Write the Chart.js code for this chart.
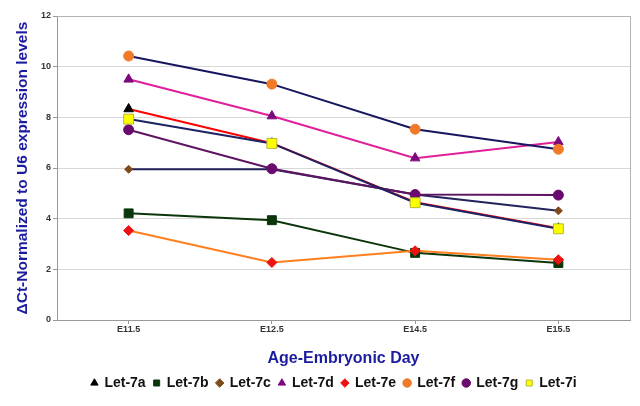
<!DOCTYPE html>
<html><head><meta charset="utf-8">
<script src="https://cdn.jsdelivr.net/npm/chart.js@4.4.1/dist/chart.umd.min.js"></script>
<style>html,body{margin:0;padding:0;background:#fff}#wrap{width:640px;height:406px}</style>
</head><body><div id="wrap"><canvas id="c" width="640" height="406"></canvas></div>
<script>
const categories = ['E11.5','E12.5','E14.5','E15.5'];
const let7a = [8.33, 6.98, 4.65, 3.62];
const let7b = [4.21, 3.94, 2.65, 2.25];
const let7c = [5.95, 5.95, 4.95, 4.31];
const let7d = [9.50, 8.05, 6.39, 7.03];
const let7e = [3.53, 2.27, 2.73, 2.38];
const let7f = [10.42, 9.31, 7.53, 6.74];
const let7g = [7.51, 5.97, 4.95, 4.93];
const let7i = [7.93, 6.97, 4.63, 3.60];
const seriesNames = ['Let-7a','Let-7b','Let-7c','Let-7d','Let-7e','Let-7f','Let-7g','Let-7i'];
const yTicks = [0,2,4,6,8,10,12];

const styles = [
  {line:'#ff0000', fill:'#000000', border:'#000000', shape:'triangle', r:5.5},
  {line:'#0b360b', fill:'#0b360b', border:'#0b360b', shape:'rect', r:6.3},
  {line:'#23235e', fill:'#7f4a1c', border:'#7f4a1c', shape:'rectRot', r:4},
  {line:'#e0209a', fill:'#7d0a7d', border:'#7d0a7d', shape:'triangle', r:5.5},
  {line:'#ff7f1e', fill:'#ee1111', border:'#ee1111', shape:'rectRot', r:5},
  {line:'#16165e', fill:'#f07a28', border:'#f07a28', shape:'circle', r:5},
  {line:'#5e1462', fill:'#6a0a6e', border:'#6a0a6e', shape:'circle', r:5},
  {line:'#1c2264', fill:'#ffff00', border:'#b8b830', shape:'rect', r:7}
];
const values = [let7a, let7b, let7c, let7d, let7e, let7f, let7g, let7i];

const datasets = values.map((v, i) => ({
  label: seriesNames[i],
  data: v,
  borderColor: styles[i].line,
  backgroundColor: styles[i].fill,
  borderWidth: 2,
  pointStyle: styles[i].shape,
  pointRadius: styles[i].r,
  pointHoverRadius: styles[i].r,
  pointBackgroundColor: styles[i].fill,
  pointBorderColor: styles[i].border,
  pointBorderWidth: 1,
  tension: 0,
  order: values.length - i
}));

const tweak = {
  id: 'tweak',
  afterLayout(chart) {
    const L = chart.legend;
    if (L) { L.left += 19; L.right += 19; }
  },
  beforeDatasetsDraw(chart) {
    const a = chart.chartArea, ctx = chart.ctx;
    ctx.save();
    ctx.strokeStyle = '#b4b4b4';
    ctx.lineWidth = 1;
    ctx.beginPath();
    ctx.moveTo(a.left, a.top + 0.5);
    ctx.lineTo(a.right + 0.5, a.top + 0.5);
    ctx.lineTo(a.right + 0.5, a.bottom);
    ctx.stroke();
    ctx.restore();
  }
};

new Chart(document.getElementById('c'), {
  type: 'line',
  data: { labels: categories, datasets },
  plugins: [tweak],
  options: {
    responsive: false,
    animation: false,
    layout: { padding: { top: 16, right: 10, left: 0, bottom: 6 } },
    plugins: {
      tooltip: { enabled: false },
      legend: {
        position: 'bottom',
        labels: {
          usePointStyle: true,
          boxWidth: 6,
          boxHeight: 6,
          padding: 8,
          color: '#111',
          font: { family: 'Liberation Sans, Arial, sans-serif', size: 14, weight: 'bold' },
          sort: (a, b) => a.datasetIndex - b.datasetIndex
        }
      }
    },
    scales: {
      x: {
        type: 'category',
        offset: true,
        afterFit: (s) => { s.height = 48; },
        grid: { drawOnChartArea: false, drawTicks: true, tickLength: 4, color: '#999' },
        border: { color: '#999' },
        ticks: { color: '#333', padding: 0, font: { family: 'Liberation Sans, Arial, sans-serif', size: 9, weight: 'bold' } },
        title: {
          display: true, text: 'Age-Embryonic Day', color: '#1c1ca0',
          padding: { top: 0, bottom: 0 },
          font: { family: 'Liberation Sans, Arial, sans-serif', size: 16, weight: 'bold' }
        }
      },
      y: {
        min: 0, max: 12,
        afterFit: (s) => { s.width = 57; },
        afterBuildTicks: (s) => { s.ticks = yTicks.map(v => ({ value: v })); },
        grid: { color: '#d8d8d8', tickColor: '#999', tickLength: 4 },
        border: { color: '#999' },
        ticks: { color: '#333', padding: 2, font: { family: 'Liberation Sans, Arial, sans-serif', size: 9, weight: 'bold' } },
        title: {
          display: true, text: 'ΔCt-Normalized to U6 expression levels', color: '#1c1ca0',
          padding: { top: 13, bottom: 0 },
          font: { family: 'Liberation Sans, Arial, sans-serif', size: 15.5, weight: 'bold' }
        }
      }
    }
  }
});
</script></body></html>
